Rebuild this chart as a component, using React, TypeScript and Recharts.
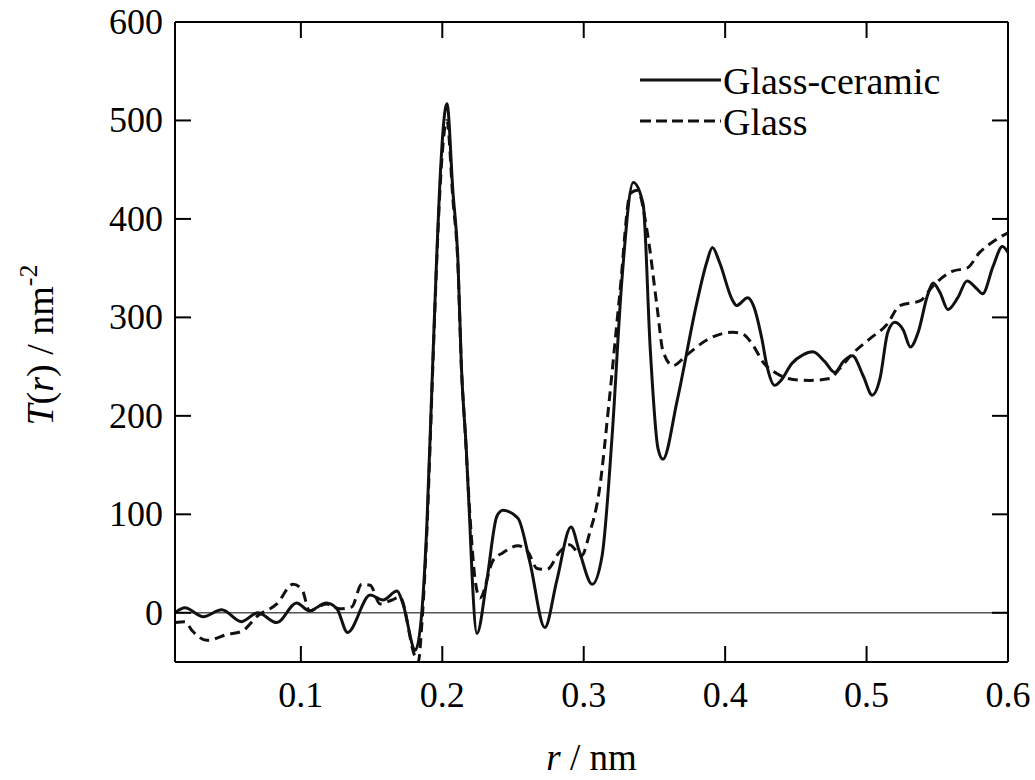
import React from "react";
import { LineChart, Line, XAxis, YAxis, ReferenceLine } from "recharts";

// Glass-ceramic (solid)
const gcR = [0.011, 0.018, 0.031, 0.044, 0.058, 0.0695, 0.083, 0.097, 0.106, 0.118, 0.1255, 0.133, 0.149, 0.158, 0.168, 0.172, 0.181, 0.1856, 0.189, 0.1933, 0.196, 0.198, 0.2033, 0.2075, 0.211, 0.2135, 0.217, 0.2195, 0.221, 0.2245, 0.2315, 0.2386, 0.2429, 0.2535, 0.262, 0.2725, 0.281, 0.291, 0.297, 0.306, 0.313, 0.32, 0.327, 0.335, 0.342, 0.347, 0.3525, 0.356, 0.366, 0.38, 0.387, 0.391, 0.396, 0.405, 0.408, 0.416, 0.42, 0.426, 0.4295, 0.435, 0.4395, 0.447, 0.455, 0.462, 0.4705, 0.4775, 0.4835, 0.49, 0.4975, 0.504, 0.5095, 0.515, 0.52, 0.526, 0.531, 0.5365, 0.543, 0.547, 0.552, 0.5575, 0.5645, 0.571, 0.578, 0.582, 0.5895, 0.596, 0.6];
const gcT = [0, 5, -4, 3, -9, 0, -10, 10, 2, 10, 4, -20, 18, 13, 22, 10, -38, 2, 86, 256, 360, 428, 517, 428, 360, 250, 165, 90, 40, -21, 33, 98, 104, 96, 51, -15, 33, 87, 62, 29, 58, 178, 338, 437, 415, 269, 167, 156, 215, 315, 356, 371, 356, 318, 312, 320, 312, 278, 251, 231, 236, 253, 262, 265, 255, 244, 255, 261, 241, 221, 238, 285, 295, 287, 270, 285, 322, 335, 325, 308, 320, 337, 329, 324, 352, 372, 366];

// Glass (dashed)
const glR = [0.011, 0.018, 0.023, 0.0335, 0.048, 0.058, 0.0695, 0.083, 0.0945, 0.101, 0.106, 0.118, 0.1275, 0.136, 0.143, 0.149, 0.156, 0.1645, 0.17, 0.1806, 0.183, 0.1856, 0.189, 0.1933, 0.196, 0.198, 0.2033, 0.2075, 0.211, 0.2135, 0.216, 0.2195, 0.223, 0.2266, 0.2358, 0.2429, 0.2535, 0.2605, 0.267, 0.274, 0.283, 0.29, 0.2985, 0.304, 0.311, 0.318, 0.3255, 0.333, 0.338, 0.345, 0.352, 0.356, 0.363, 0.373, 0.387, 0.4055, 0.4125, 0.42, 0.4265, 0.4365, 0.448, 0.46, 0.474, 0.481, 0.49, 0.502, 0.5145, 0.5235, 0.538, 0.547, 0.561, 0.571, 0.58, 0.5895, 0.6];
const glT = [-10, -9, -18, -28, -22, -19, -3, 9, 29, 23, 2, 9, 4, 6, 29, 28, 9, 13, 16, -44, -50, -10, 80, 250, 355, 420, 500, 420, 355, 250, 188, 100, 36, 15, 53, 61, 68, 62, 45, 44, 62, 69, 58, 80, 124, 215, 324, 426, 429, 386, 309, 266, 251, 262, 277, 285, 283, 271, 255, 243, 237, 236, 238, 248, 263, 278, 293, 312, 317, 332, 347, 350, 366, 377, 386];

const xTicks = [0.1, 0.2, 0.3, 0.4, 0.5, 0.6];
const yTicks = [0, 100, 200, 300, 400, 500, 600];

const gcData = gcR.map((r, i) => ({ r, t: gcT[i] }));
const glData = glR.map((r, i) => ({ r, t: glT[i] }));

const W = 1035;
const H = 780;
const LEFT = 175;
const RIGHT = 1008;
const TOP = 22;
const BOTTOM = 662;
const TICK = 16;
const FONT = "'Liberation Serif', 'Times New Roman', serif";

function BottomTick({ x, y, payload }: any) {
  return (
    <g>
      <line x1={x} x2={x} y1={y} y2={y - TICK} stroke="#000" strokeWidth={2} />
      <line x1={x} x2={x} y1={TOP} y2={TOP + TICK} stroke="#000" strokeWidth={2} />
      <text x={x} y={y + 19} dy="0.71em" textAnchor="middle" fontSize={36} fontFamily={FONT} fill="#000">
        {payload.value}
      </text>
    </g>
  );
}

function LeftTick({ x, y, payload }: any) {
  return (
    <g>
      <line x1={x} x2={x + TICK} y1={y} y2={y} stroke="#000" strokeWidth={2} />
      <line x1={RIGHT} x2={RIGHT - TICK} y1={y} y2={y} stroke="#000" strokeWidth={2} />
      <text x={x - 12} y={y} dy="0.33em" textAnchor="end" fontSize={36} fontFamily={FONT} fill="#000">
        {payload.value}
      </text>
    </g>
  );
}

export default function App() {
  return (
    <div style={{ position: "absolute", left: 0, top: 0, width: W, height: H, background: "#fff" }}>
      <LineChart width={W} height={H} margin={{ top: TOP, right: W - RIGHT, left: 0, bottom: 0 }}>
        <XAxis
          dataKey="r"
          type="number"
          domain={[0.011, 0.6]}
          ticks={xTicks}
          allowDataOverflow
          height={H - BOTTOM}
          tickSize={0}
          tickMargin={0}
          tickLine={false}
          axisLine={{ stroke: "#000", strokeWidth: 2 }}
          tick={BottomTick}
          label={{
            content: ({ viewBox }: any) => (
              <text x={viewBox.x + viewBox.width / 2} y={770} textAnchor="middle" fontSize={37} fontFamily={FONT} fill="#000">
                <tspan fontStyle="italic">r</tspan>
                <tspan> / nm</tspan>
              </text>
            ),
          }}
        />
        <YAxis
          type="number"
          domain={[-50, 600]}
          ticks={yTicks}
          allowDataOverflow
          width={LEFT}
          tickSize={0}
          tickMargin={0}
          tickLine={false}
          axisLine={{ stroke: "#000", strokeWidth: 2 }}
          tick={LeftTick}
          label={{
            content: () => (
              <text x={53} y={345} transform="rotate(-90 53 345)" textAnchor="middle" fontSize={38} fontFamily={FONT} fill="#000">
                <tspan fontStyle="italic">T</tspan>
                <tspan>(</tspan>
                <tspan fontStyle="italic">r</tspan>
                <tspan>) / nm</tspan>
                <tspan fontSize={26} dy={-16}>-2</tspan>
              </text>
            ),
          }}
        />
        <ReferenceLine y={0} stroke="#555" strokeWidth={1.5} />
        <ReferenceLine y={600} stroke="#000" strokeWidth={2} />
        <ReferenceLine x={0.6} stroke="#000" strokeWidth={2} />
        <Line
          data={glData}
          dataKey="t"
          type="monotone"
          stroke="#111"
          strokeWidth={3}
          strokeDasharray="10 6"
          dot={false}
          isAnimationActive={false}
        />
        <Line
          data={gcData}
          dataKey="t"
          type="monotone"
          stroke="#111"
          strokeWidth={3}
          dot={false}
          isAnimationActive={false}
        />
      </LineChart>
      <svg width={380} height={110} style={{ position: "absolute", left: 630, top: 40 }}>
        <line x1={10} x2={91} y1={40} y2={40} stroke="#111" strokeWidth={3} />
        <text x={93} y={54} fontSize={38} fontFamily={FONT} fill="#000">Glass-ceramic</text>
        <line x1={10} x2={91} y1={81} y2={81} stroke="#111" strokeWidth={3} strokeDasharray="11 5" />
        <text x={93} y={95} fontSize={38} fontFamily={FONT} fill="#000">Glass</text>
      </svg>
    </div>
  );
}
